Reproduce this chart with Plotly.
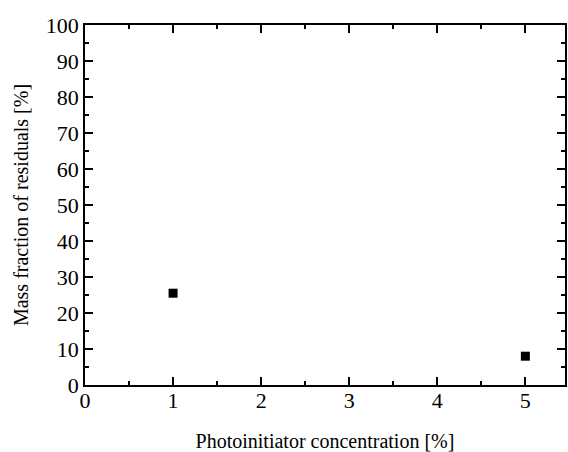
import plotly.graph_objects as go

# Photoinitiator concentration [%] and residual mass fraction [%]
concentration = [1, 5]
residuals = [25.5, 8.0]

x_ticks = [0, 1, 2, 3, 4, 5]
y_ticks = [0, 10, 20, 30, 40, 50, 60, 70, 80, 90, 100]

font_family = "Liberation Serif, Times New Roman, serif"

fig = go.Figure()
fig.add_trace(go.Scatter(
    x=concentration, y=residuals, mode="markers",
    marker=dict(symbol="square", size=9, color="black"),
    showlegend=False,
))

axis_common = dict(
    showline=True, linecolor="black", linewidth=1.5, mirror="ticks",
    ticks="inside", ticklen=8, tickwidth=1.5, tickcolor="black",
    showgrid=False, zeroline=False,
    tickfont=dict(family=font_family, size=22, color="black"),
)

fig.update_xaxes(
    range=[0, 5.45], tickvals=x_ticks, ticktext=[str(v) for v in x_ticks],
    ticklabelstandoff=-5,
    minor=dict(ticks="inside", ticklen=4, tickwidth=1.5, tickcolor="black", dtick=0.5, tick0=0),
    title=dict(text="Photoinitiator concentration [%]",
               font=dict(family=font_family, size=20, color="black"), standoff=24),
    **axis_common,
)
fig.update_yaxes(
    range=[0, 100], tickvals=y_ticks, ticktext=[str(v) for v in y_ticks],
    minor=dict(ticks="inside", ticklen=4, tickwidth=1.5, tickcolor="black", dtick=5, tick0=0),
    title=dict(text="Mass fraction of residuals [%]",
               font=dict(family=font_family, size=20, color="black"), standoff=12),
    **axis_common,
)

fig.update_layout(
    width=568, height=452,
    margin=dict(l=85, r=1, t=25, b=65),
    plot_bgcolor="white", paper_bgcolor="white",
)

fig.write_html("out.html")
